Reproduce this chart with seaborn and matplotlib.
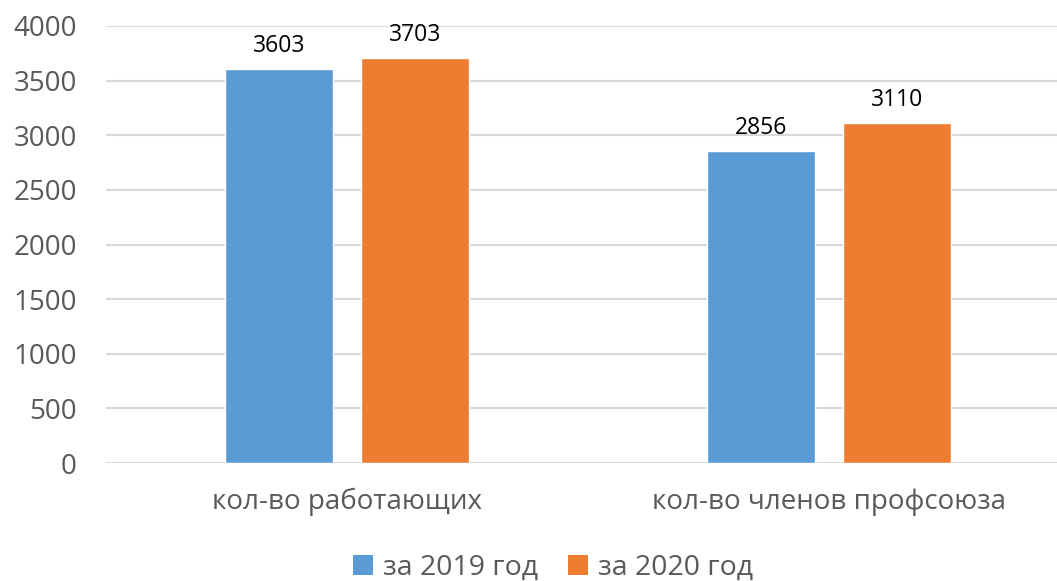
import matplotlib
matplotlib.use("Agg")
import matplotlib.pyplot as plt
import seaborn as sns
import pandas as pd
from matplotlib.patches import Patch

categories = ["кол-во работающих", "кол-во членов профсоюза"]
series_names = ["за 2019 год", "за 2020 год"]
values_2019 = [3603, 2856]
values_2020 = [3703, 3110]
colors = ["#5B9BD5", "#ED7D31"]
yticks = [0, 500, 1000, 1500, 2000, 2500, 3000, 3500, 4000]

df = pd.DataFrame({
    "cat": categories * 2,
    "series": [series_names[0]] * 2 + [series_names[1]] * 2,
    "value": values_2019 + values_2020,
})

sns.set_theme(style="white")
plt.rcParams["font.family"] = ["Open Sans", "DejaVu Sans"]

fig = plt.figure(figsize=(10.57, 5.81), dpi=100)
ax = fig.add_axes([106 / 1057, 1 - 463 / 581, 1 - 106 / 1057, (463 - 26) / 581])

sns.barplot(data=df, x="cat", y="value", hue="series", palette=colors,
            width=0.566, gap=0.21, ax=ax, legend=False, saturation=1,
            order=categories, hue_order=series_names)

for c in ax.containers:
    ax.bar_label(c, fmt="%d", padding=8, fontsize=16.5, color="black")

ax.set_ylim(0, 4000)
ax.set_xlim(-0.5, 1.473)
ax.set_yticks(yticks)
ax.set_yticklabels([str(v) for v in yticks])
ax.yaxis.grid(True, color="#D9D9D9", linewidth=1.5)
ax.set_axisbelow(True)
for s in ax.spines.values():
    s.set_visible(False)
ax.tick_params(axis="both", length=0)
ax.tick_params(axis="y", labelsize=20, labelcolor="#595959", pad=21)
ax.tick_params(axis="x", labelsize=20, labelcolor="#595959", pad=18)
ax.set_xlabel("")
ax.set_ylabel("")

handles = [Patch(facecolor=col, edgecolor="none") for col in colors]
fig.legend(handles, series_names, loc="lower center", bbox_to_anchor=(0.523, -0.045),
           ncol=2, frameon=False, fontsize=20.5, labelcolor="#595959",
           handlelength=0.7, handleheight=0.7, handletextpad=0.35, columnspacing=1.05)

fig.savefig("out.png", dpi=100)
